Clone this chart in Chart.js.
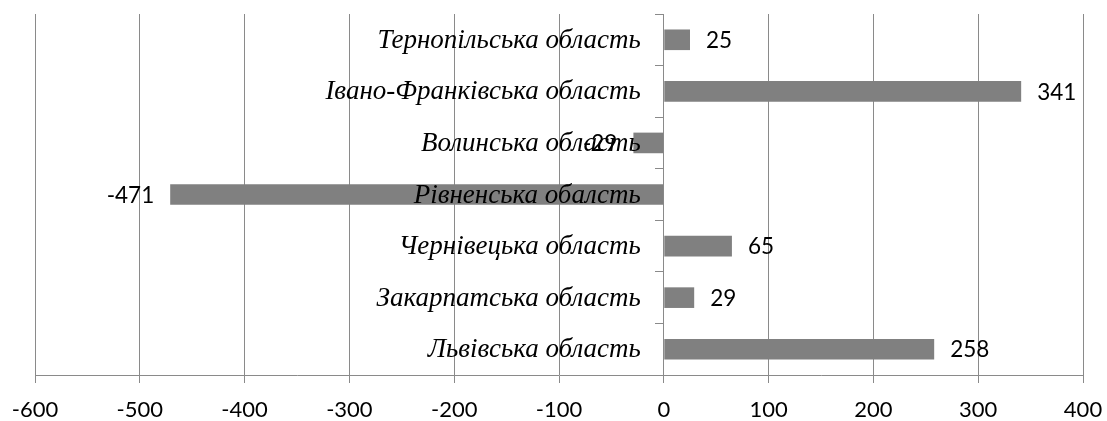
<!DOCTYPE html>
<html>
<head>
<meta charset="utf-8">
<script src="https://cdn.jsdelivr.net/npm/chart.js@4"></script>
<style>
  html, body { margin: 0; padding: 0; background: #fff; }
</style>
</head>
<body>
<canvas id="barChart" width="1107" height="421"></canvas>
<script>
// regions listed top to bottom
const regions = [
  "Тернопільська область",
  "Івано-Франківська область",
  "Волинська область",
  "Рівненська обалсть",
  "Чернівецька область",
  "Закарпатська область",
  "Львівська область",
];
const balance = [25, 341, -29, -471, 65, 29, 258];
const xTicks = [-600, -500, -400, -300, -200, -100, 0, 100, 200, 300, 400];

const axisColor = "#8a8a8a";

// region names sit left of the zero line, values at the bar ends
const labelPlugin = {
  id: "regionLabels",
  afterDatasetsDraw(chart) {
    const ctx = chart.ctx;
    const x = chart.scales.x;
    const y = chart.scales.y;
    const zero = x.getPixelForValue(0);
    ctx.save();
    ctx.fillStyle = "#000";
    ctx.textBaseline = "middle";
    ctx.font = "italic 27px 'Liberation Serif'";
    ctx.textAlign = "right";
    regions.forEach((name, i) => {
      ctx.fillText(name, zero - 23, y.getPixelForValue(i) + 1);
    });
    ctx.font = "22.5px Lato";
    chart.getDatasetMeta(0).data.forEach((bar, i) => {
      const v = balance[i];
      ctx.textAlign = v < 0 ? "right" : "left";
      ctx.fillText(String(v), bar.x + (v < 0 ? -16 : 16), bar.y + 1);
    });
    ctx.restore();
  },
};

new Chart(document.getElementById("barChart"), {
  type: "bar",
  data: {
    labels: regions,
    datasets: [
      {
        data: balance,
        backgroundColor: "#808080",
        borderWidth: 0,
        barPercentage: 0.4,
        categoryPercentage: 1,
      },
    ],
  },
  options: {
    indexAxis: "y",
    responsive: false,
    animation: false,
    layout: { padding: { left: 35, right: 24, top: 14, bottom: -16 } },
    scales: {
      x: {
        min: -600,
        max: 400,
        afterBuildTicks: (axis) => {
          axis.ticks = xTicks.map((v) => ({ value: v }));
        },
        // outer labels may hang into the side margins
        afterFit: (axis) => {
          axis.paddingLeft = 0;
          axis.paddingRight = 0;
        },
        grid: { color: axisColor, lineWidth: 1, tickLength: 8 },
        border: { color: axisColor },
        ticks: {
          color: "#000",
          padding: 16,
          maxRotation: 0,
          font: { family: "Lato", size: 22, lineHeight: 1 },
        },
      },
      y: {
        position: { x: 0 },
        grid: { drawOnChartArea: false, color: axisColor, tickLength: 8 },
        border: { color: axisColor },
        ticks: { display: false },
      },
    },
    plugins: {
      legend: { display: false },
      tooltip: { enabled: false },
    },
  },
  plugins: [labelPlugin],
});
</script>
</body>
</html>
